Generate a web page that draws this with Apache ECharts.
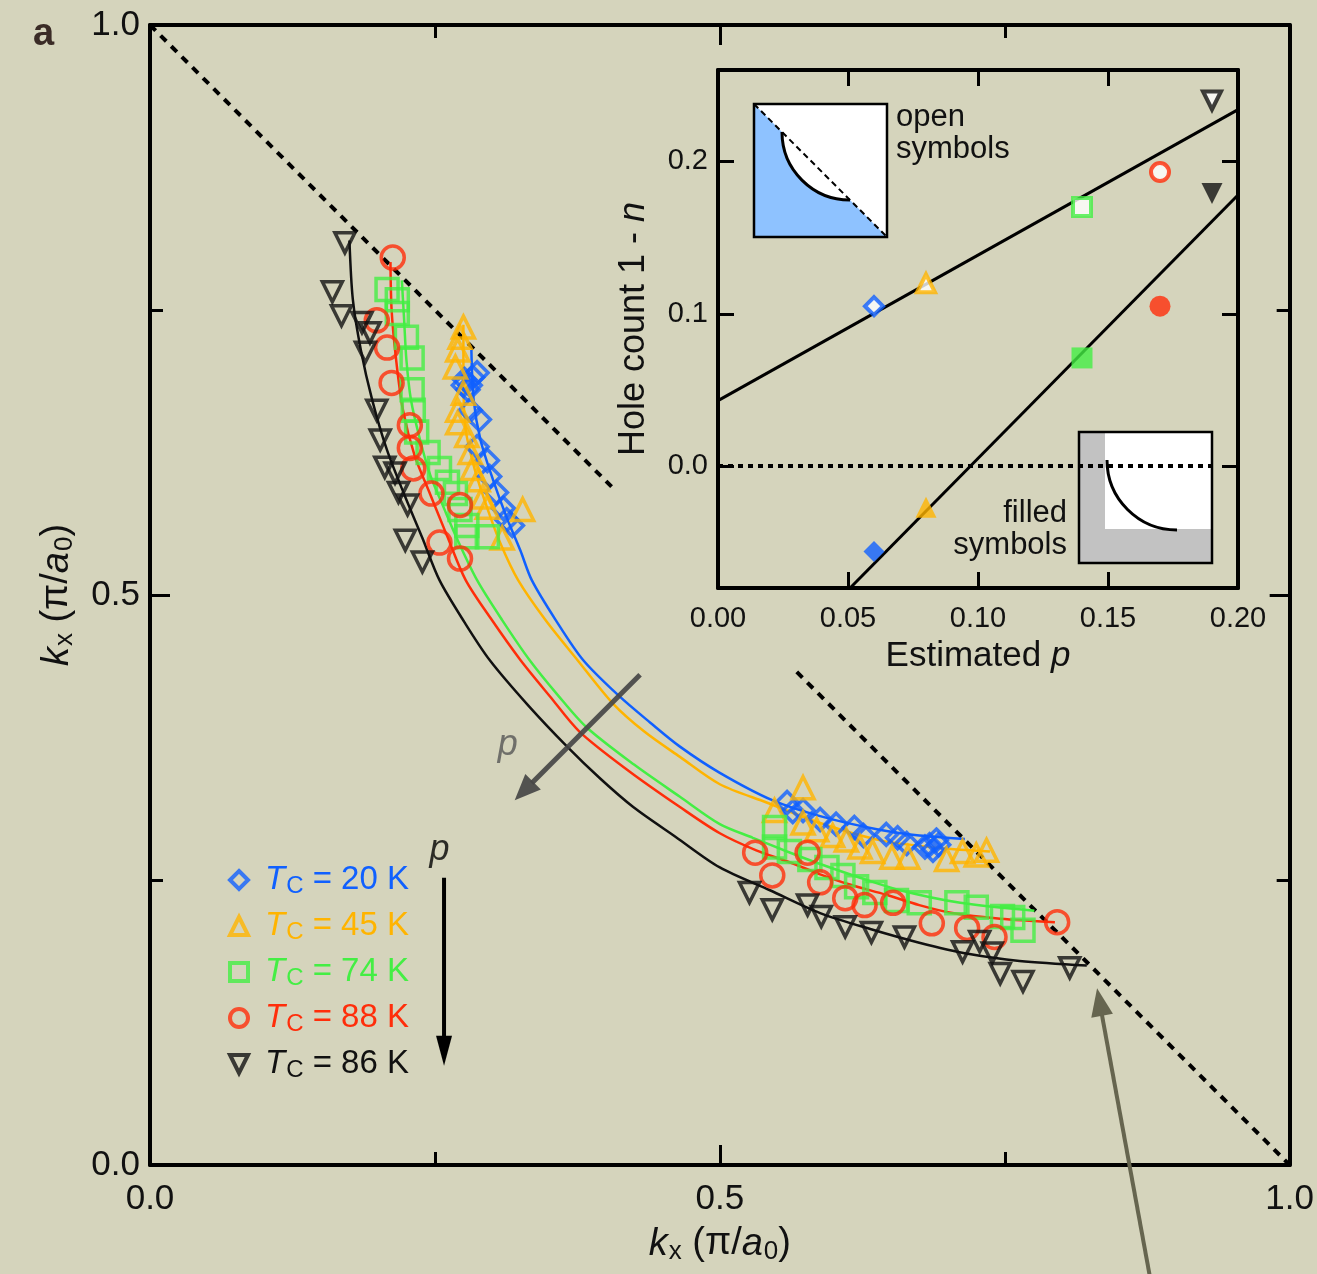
<!DOCTYPE html>
<html>
<head>
<meta charset="utf-8">
<script src="https://cdn.jsdelivr.net/npm/echarts@6/dist/echarts.min.js"></script>
<style>
html, body { margin: 0; padding: 0; background: #d5d4bc; }
#chart { width: 1317px; height: 1274px; }
</style>
</head>
<body>
<div id="chart"></div>
<script>
// ---- data (kx, ky in units of pi/a0) ----
const sampleNames = ['Tc = 20 K', 'Tc = 45 K', 'Tc = 74 K', 'Tc = 88 K', 'Tc = 86 K']
const tcValues = [20, 45, 74, 88, 86]

const tc20Points = [
  [0.276, 0.689], [0.281, 0.684], [0.287, 0.695], [0.279, 0.680], [0.283, 0.691], [0.275, 0.684],
  [0.281, 0.662], [0.289, 0.654], [0.287, 0.630], [0.296, 0.618], [0.298, 0.604], [0.304, 0.590],
  [0.310, 0.576], [0.313, 0.566], [0.318, 0.561],
  [0.559, 0.318], [0.564, 0.310], [0.573, 0.311], [0.588, 0.303], [0.602, 0.299], [0.618, 0.296],
  [0.626, 0.289], [0.646, 0.290], [0.656, 0.287], [0.664, 0.282], [0.680, 0.279], [0.687, 0.276],
  [0.690, 0.285], [0.684, 0.281], [0.692, 0.281]
]
const tc45Points = [
  [0.275, 0.735], [0.272, 0.726], [0.270, 0.715], [0.268, 0.700], [0.275, 0.677], [0.270, 0.662],
  [0.270, 0.651], [0.278, 0.640], [0.281, 0.625], [0.283, 0.611], [0.288, 0.601], [0.292, 0.586],
  [0.296, 0.577], [0.327, 0.575], [0.309, 0.550],
  [0.573, 0.331], [0.548, 0.311], [0.573, 0.300], [0.585, 0.294], [0.599, 0.289], [0.611, 0.285],
  [0.623, 0.279], [0.634, 0.275], [0.651, 0.270], [0.665, 0.270], [0.699, 0.268], [0.713, 0.275],
  [0.725, 0.272], [0.734, 0.276]
]
const tc74Points = [
  [0.208, 0.768], [0.217, 0.759], [0.217, 0.747], [0.225, 0.726], [0.230, 0.708], [0.230, 0.680],
  [0.231, 0.662], [0.234, 0.643], [0.244, 0.625], [0.254, 0.611], [0.261, 0.599], [0.268, 0.589],
  [0.272, 0.575], [0.278, 0.561], [0.278, 0.551], [0.296, 0.551],
  [0.548, 0.296], [0.548, 0.279], [0.561, 0.275], [0.579, 0.268], [0.594, 0.261], [0.608, 0.254],
  [0.620, 0.244], [0.636, 0.239], [0.655, 0.232], [0.675, 0.230], [0.708, 0.230], [0.725, 0.226],
  [0.748, 0.218], [0.757, 0.217], [0.766, 0.206]
]
const tc88Points = [
  [0.213, 0.796], [0.199, 0.741], [0.208, 0.717], [0.212, 0.686], [0.228, 0.649], [0.228, 0.629],
  [0.231, 0.611], [0.247, 0.589], [0.272, 0.579], [0.254, 0.546], [0.272, 0.532],
  [0.531, 0.274], [0.546, 0.254], [0.577, 0.274], [0.588, 0.248], [0.610, 0.234], [0.627, 0.228],
  [0.652, 0.230], [0.686, 0.212], [0.717, 0.208], [0.741, 0.200], [0.796, 0.213]
]
const tc86Points = [
  [0.171, 0.809], [0.160, 0.766], [0.168, 0.745], [0.186, 0.739], [0.193, 0.730], [0.189, 0.713],
  [0.199, 0.662], [0.202, 0.636], [0.206, 0.612], [0.215, 0.607], [0.218, 0.590], [0.226, 0.579],
  [0.224, 0.548], [0.239, 0.529],
  [0.526, 0.239], [0.546, 0.224], [0.577, 0.228], [0.589, 0.218], [0.610, 0.209], [0.633, 0.204],
  [0.662, 0.200], [0.713, 0.187], [0.728, 0.196], [0.739, 0.186], [0.746, 0.168], [0.766, 0.161],
  [0.807, 0.173]
]

// fitted Fermi surface contours
const tc20Fit = [
  [0.282, 0.715], [0.284, 0.671], [0.290, 0.636], [0.301, 0.601], [0.313, 0.568], [0.325, 0.539],
  [0.335, 0.513], [0.356, 0.478], [0.380, 0.443], [0.412, 0.411], [0.439, 0.388], [0.465, 0.367],
  [0.500, 0.344], [0.546, 0.320], [0.588, 0.306], [0.640, 0.294], [0.675, 0.289], [0.715, 0.286]
]
const tc45Fit = [
  [0.275, 0.737], [0.275, 0.689], [0.277, 0.645], [0.285, 0.610], [0.296, 0.576], [0.308, 0.544],
  [0.323, 0.513], [0.347, 0.478], [0.375, 0.443], [0.406, 0.405], [0.434, 0.380], [0.465, 0.358],
  [0.500, 0.334], [0.541, 0.318], [0.588, 0.300], [0.640, 0.285], [0.693, 0.278], [0.737, 0.275]
]
const tc74Fit = [
  [0.221, 0.776], [0.223, 0.741], [0.225, 0.706], [0.229, 0.671], [0.237, 0.636], [0.246, 0.605],
  [0.258, 0.576], [0.270, 0.548], [0.287, 0.513], [0.309, 0.478], [0.333, 0.443], [0.358, 0.412],
  [0.383, 0.384], [0.425, 0.351], [0.465, 0.323], [0.500, 0.299], [0.529, 0.287], [0.559, 0.275],
  [0.588, 0.264], [0.623, 0.252], [0.658, 0.241], [0.711, 0.230], [0.776, 0.223]
]
const tc88Fit = [
  [0.211, 0.792], [0.212, 0.750], [0.216, 0.706], [0.222, 0.662], [0.232, 0.623], [0.246, 0.588],
  [0.261, 0.551], [0.277, 0.513], [0.300, 0.478], [0.325, 0.443], [0.351, 0.411], [0.377, 0.380],
  [0.421, 0.345], [0.465, 0.314], [0.500, 0.291], [0.532, 0.276], [0.560, 0.266], [0.588, 0.255],
  [0.614, 0.246], [0.646, 0.237], [0.675, 0.228], [0.704, 0.221], [0.746, 0.216], [0.794, 0.213]
]
const tc86Fit = [
  [0.175, 0.811], [0.178, 0.759], [0.185, 0.715], [0.195, 0.671], [0.208, 0.627], [0.224, 0.586],
  [0.239, 0.550], [0.254, 0.513], [0.276, 0.476], [0.298, 0.443], [0.332, 0.403], [0.366, 0.367],
  [0.395, 0.339], [0.424, 0.314], [0.461, 0.288], [0.500, 0.261], [0.544, 0.241], [0.588, 0.221],
  [0.632, 0.207], [0.675, 0.195], [0.719, 0.185], [0.763, 0.179], [0.822, 0.175]
]

// zone diagonal kx + ky = 1 (dotted, with a gap)
const diagUpper = [[0, 1], [0.405, 0.595]]
const diagLower = [[0.5675, 0.4325], [1, 0]]

// arrows: [x1, y1, x2, y2]
const pArrow = [0.430, 0.430, 0.320, 0.320]
const legendArrow = [0.258, 0.252, 0.258, 0.087]
const pointerArrow = [0.877, -0.096, 0.831, 0.155]

// inset: hole count vs estimated p
const insetP = [0.06, 0.08, 0.14, 0.17, 0.19]
const insetOpen = [0.105, 0.120, 0.170, 0.193, 0.240]
const insetFilled = [-0.056, -0.027, 0.071, 0.105, 0.179]
const insetOpenFit = [[0, 0.043], [0.2, 0.234]]
const insetFilledFit = [[0.0508, -0.08], [0.2, 0.178]]
const insetZero = [[0, 0], [0.19, 0]]

// ---- styles ----
const FONT = '"Liberation Sans", Arial, Helvetica, sans-serif'
const colors = ['#1060ff', '#ffb400', '#44ee44', '#ff2d0a', '#111111']
const DOWN = 'path://M0,0L2,0L1,2Z'
const symbols = ['diamond', 'triangle', 'rect', 'circle', DOWN]
const symbolSizes = [22, 22, 22, 23, 20]
const pointSets = [tc20Points, tc45Points, tc74Points, tc88Points, tc86Points]
const fitSets = [tc20Fit, tc45Fit, tc74Fit, tc88Fit, tc86Fit]

const chart = echarts.init(document.getElementById('chart'))

function nameRich(size, lh) {
  return {
    i: { fontStyle: 'italic', fontSize: size, lineHeight: lh, color: '#111', fontFamily: FONT },
    s: { fontSize: Math.round(size * 0.68), lineHeight: lh - 16, padding: [16, 0, 0, 1], color: '#111', fontFamily: FONT }
  }
}

function frameAxis(grid, pos, extra) {
  return Object.assign({
    gridIndex: grid,
    type: 'value',
    position: pos,
    axisLine: { show: true, onZero: false, lineStyle: { color: '#000', width: 4 } },
    axisTick: { show: true, inside: true, length: 20, lineStyle: { color: '#000', width: 3 } },
    splitLine: { show: false },
    axisLabel: { show: false }
  }, extra)
}

const mainX = { min: 0, max: 1, interval: 0.5,
  minorTick: { show: true, splitNumber: 2, length: 13, lineStyle: { color: '#000', width: 3 } },
  minorSplitLine: { show: false } }
const insetX = { min: 0, max: 0.2, interval: 0.05,
  axisTick: { show: true, inside: true, length: 16, lineStyle: { color: '#000', width: 3 } } }
const insetY = { min: -0.08, max: 0.26,
  axisTick: { show: true, inside: true, length: 16, customValues: [0, 0.1, 0.2], lineStyle: { color: '#000', width: 3 } } }

const legendRich = {}
colors.forEach((c, i) => {
  legendRich['t' + i] = { fontStyle: 'italic', fontSize: 33, lineHeight: 36, padding: [0, 0, 0, 12], color: c, fontFamily: FONT }
  legendRich['c' + i] = { fontSize: 24, lineHeight: 24, padding: [12, 0, 0, 1], color: c, fontFamily: FONT }
  legendRich['v' + i] = { fontSize: 33, lineHeight: 36, color: c, fontFamily: FONT }
})

function arrowRender(color, width, headLen, headW) {
  return function (params, api) {
    const a = api.coord([api.value(0), api.value(1)])
    const b = api.coord([api.value(2), api.value(3)])
    const dx = b[0] - a[0], dy = b[1] - a[1]
    const L = Math.hypot(dx, dy)
    const ux = dx / L, uy = dy / L
    const bx = b[0] - ux * headLen, by = b[1] - uy * headLen
    const px = -uy, py = ux
    return {
      type: 'group',
      children: [
        { type: 'line', shape: { x1: a[0], y1: a[1], x2: bx + ux * 2, y2: by + uy * 2 }, style: { stroke: color, lineWidth: width } },
        { type: 'polygon', shape: { points: [[b[0], b[1]], [bx + px * headW / 2, by + py * headW / 2], [bx - px * headW / 2, by - py * headW / 2]] }, style: { fill: color } }
      ]
    }
  }
}

const series = []

// dotted diagonal
;[diagUpper, diagLower].forEach(d => series.push({
  type: 'line', xAxisIndex: 0, yAxisIndex: 0, data: d, symbol: 'none', silent: true, z: 1,
  lineStyle: { color: '#000', width: 4, type: [8, 7] }
}))

// fit contours
fitSets.forEach((d, i) => series.push({
  type: 'line', xAxisIndex: 0, yAxisIndex: 0, data: d, symbol: 'none', smooth: 0.3, silent: true, z: 2,
  lineStyle: { color: colors[i], width: 2.5 }
}))

// measured points
pointSets.forEach((d, i) => series.push({
  name: sampleNames[i], type: 'scatter', xAxisIndex: 0, yAxisIndex: 0, data: d, z: 3,
  symbol: symbols[i], symbolSize: symbolSizes[i],
  itemStyle: { color: 'transparent', borderColor: colors[i], borderWidth: 3.5 }
}))

// inset fits
series.push({ type: 'line', xAxisIndex: 2, yAxisIndex: 2, data: insetOpenFit, symbol: 'none', silent: true, lineStyle: { color: '#000', width: 3 } })
series.push({ type: 'line', xAxisIndex: 2, yAxisIndex: 2, data: insetFilledFit, symbol: 'none', silent: true, lineStyle: { color: '#000', width: 3 } })
series.push({ type: 'line', xAxisIndex: 2, yAxisIndex: 2, data: insetZero, symbol: 'none', silent: true, z: 2, lineStyle: { color: '#000', width: 4, type: [5, 5] } })

// inset points
insetP.forEach((p, i) => {
  series.push({
    name: 'open ' + i, type: 'scatter', xAxisIndex: 2, yAxisIndex: 2, data: [[p, insetOpen[i]]], z: 4,
    symbol: symbols[i], symbolSize: 18,
    itemStyle: { color: '#fff', borderColor: colors[i], borderWidth: 4 }
  })
  series.push({
    name: 'filled ' + i, type: 'scatter', xAxisIndex: 2, yAxisIndex: 2, data: [[p, insetFilled[i]]], z: 4,
    symbol: symbols[i], symbolSize: 21,
    itemStyle: { color: colors[i] }
  })
})

// arrows
series.push({ type: 'custom', xAxisIndex: 0, yAxisIndex: 0, clip: false, silent: true, z: 5, data: [pArrow],
  encode: { x: [0, 2], y: [1, 3] }, renderItem: arrowRender('rgba(70,70,70,0.92)', 5, 26, 22) })
series.push({ type: 'custom', xAxisIndex: 0, yAxisIndex: 0, clip: false, silent: true, z: 5, data: [legendArrow],
  encode: { x: [0, 2], y: [1, 3] }, renderItem: arrowRender('#000', 4, 30, 16) })
series.push({ type: 'custom', xAxisIndex: 0, yAxisIndex: 0, clip: false, silent: true, z: 5, data: [pointerArrow],
  encode: { x: [0, 2], y: [1, 3] }, renderItem: arrowRender('#66654f', 4, 28, 22) })

// "p" annotations
series.push({ type: 'scatter', xAxisIndex: 0, yAxisIndex: 0, silent: true, symbolSize: 0, z: 5,
  data: [{ value: [0.314, 0.368], label: { color: '#555' } }, { value: [0.254, 0.276], label: { color: '#000' } }],
  label: { show: true, position: 'inside', formatter: 'p', fontStyle: 'italic', fontSize: 36, fontFamily: FONT } })

const option = {
  backgroundColor: '#d5d4bc',
  animation: false,
  grid: [
    { left: 150, top: 25, right: 27, bottom: 109 },
    { left: 718, top: 70, right: 79, bottom: 686 }
  ],
  xAxis: [
    frameAxis(0, 'bottom', Object.assign({}, mainX, {
      axisLabel: { show: true, fontSize: 35, color: '#111', margin: 17, fontFamily: FONT, formatter: v => v.toFixed(1) },
      name: '{i|k}{s|x} (π/{i|a}{s|0})', nameLocation: 'middle', nameGap: 58,
      nameTextStyle: { fontSize: 38, lineHeight: 42, color: '#111', fontFamily: FONT, rich: nameRich(38, 42) }
    })),
    frameAxis(0, 'top', mainX),
    frameAxis(1, 'bottom', Object.assign({}, insetX, {
      axisLabel: { show: true, fontSize: 29, color: '#111', margin: 16, fontFamily: FONT, formatter: v => v.toFixed(2) },
      name: 'Estimated {i|p}', nameLocation: 'middle', nameGap: 48,
      nameTextStyle: { fontSize: 35, lineHeight: 40, color: '#111', fontFamily: FONT, rich: nameRich(35, 40) }
    })),
    frameAxis(1, 'top', insetX)
  ],
  yAxis: [
    frameAxis(0, 'left', Object.assign({}, mainX, {
      axisLabel: { show: true, fontSize: 35, color: '#111', margin: 10, fontFamily: FONT, formatter: v => v.toFixed(1) },
      name: '{i|k}{s|x} (π/{i|a}{s|0})', nameLocation: 'middle', nameGap: 72, nameRotate: 90,
      nameTextStyle: { fontSize: 38, lineHeight: 42, color: '#111', fontFamily: FONT, rich: nameRich(38, 42) }
    })),
    frameAxis(0, 'right', mainX),
    frameAxis(1, 'left', Object.assign({}, insetY, {
      axisLabel: { show: true, fontSize: 29, color: '#111', margin: 10, fontFamily: FONT, customValues: [0, 0.1, 0.2], formatter: v => v.toFixed(1) },
      name: 'Hole count 1 - {i|n}', nameLocation: 'middle', nameGap: 64, nameRotate: 90,
      nameTextStyle: { fontSize: 36, lineHeight: 40, color: '#111', fontFamily: FONT, rich: nameRich(36, 40) }
    })),
    frameAxis(1, 'right', insetY)
  ],
  legend: {
    data: sampleNames,
    orient: 'vertical',
    left: 223,
    top: 857,
    itemWidth: 18,
    itemHeight: 18,
    itemGap: 10,
    selectedMode: false,
    itemStyle: { borderWidth: 4 },
    formatter: name => {
      const i = sampleNames.indexOf(name)
      return '{t' + i + '|T}{c' + i + '|C}{v' + i + '| = ' + tcValues[i] + ' K}'
    },
    textStyle: { fontSize: 33, lineHeight: 36, fontFamily: FONT, rich: legendRich }
  },
  graphic: [
    { type: 'text', x: 33, y: 16, style: { text: 'a', fontSize: 38, fontWeight: 'bold', fill: '#3a2b26', fontFamily: FONT } },
    // open-symbols schematic
    { type: 'group', z: 0, children: [
      { type: 'rect', shape: { x: 754, y: 104, width: 133, height: 133 }, style: { fill: '#fff' } },
      { type: 'polygon', shape: { points: [[754, 104], [754, 237], [887, 237]] }, style: { fill: '#8ec2ff' } },
      { type: 'sector', shape: { cx: 850, cy: 132, r: 68, startAngle: Math.PI / 2, endAngle: Math.PI, clockwise: true }, style: { fill: '#fff' } },
      { type: 'arc', shape: { cx: 850, cy: 132, r: 68, startAngle: Math.PI / 2, endAngle: Math.PI, clockwise: true }, style: { stroke: '#000', lineWidth: 3, fill: null } },
      { type: 'line', shape: { x1: 754, y1: 104, x2: 887, y2: 237 }, style: { stroke: '#000', lineWidth: 2, lineDash: [6, 4] } },
      { type: 'rect', shape: { x: 754, y: 104, width: 133, height: 133 }, style: { fill: null, stroke: '#000', lineWidth: 2.5 } }
    ] },
    { type: 'text', x: 896, y: 101, style: { text: 'open\nsymbols', fontSize: 31, lineHeight: 32, fill: '#111', fontFamily: FONT } },
    // filled-symbols schematic
    { type: 'group', z: 0, children: [
      { type: 'rect', shape: { x: 1079, y: 432, width: 133, height: 131 }, style: { fill: '#c2c2c2' } },
      { type: 'rect', shape: { x: 1105, y: 432, width: 107, height: 97 }, style: { fill: '#fff' } },
      { type: 'arc', shape: { cx: 1177, cy: 460, r: 70, startAngle: Math.PI / 2, endAngle: Math.PI, clockwise: true }, style: { stroke: '#000', lineWidth: 3, fill: null } },
      { type: 'rect', shape: { x: 1079, y: 432, width: 133, height: 131 }, style: { fill: null, stroke: '#000', lineWidth: 2.5 } }
    ] },
    { type: 'text', x: 1067, y: 497, style: { text: 'filled\nsymbols', fontSize: 31, lineHeight: 32, align: 'right', fill: '#111', fontFamily: FONT } }
  ],
  series: series
}

chart.setOption(option)
</script>
</body>
</html>
